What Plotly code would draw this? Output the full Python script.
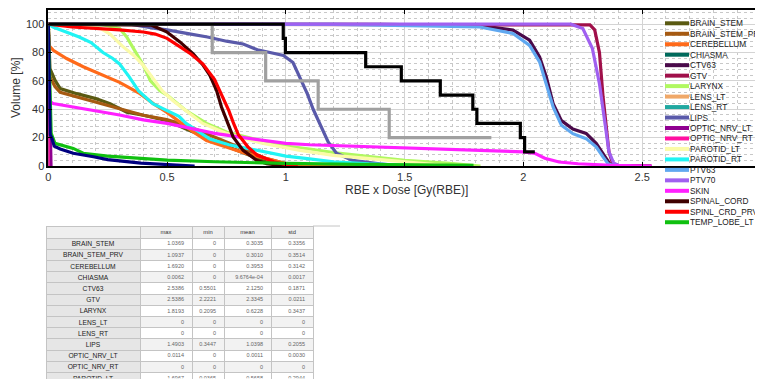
import plotly.graph_objects as go

# The page body has an 8px margin, so the figure is drawn 8px smaller and all
# reference pixel positions are shifted by that offset.
OFF = 8
FW, FH = 763 - OFF, 379 - OFF

# ---------------- DVH data (dose [Gy(RBE)], volume [%]) ----------------
names = ["BRAIN_STEM", "BRAIN_STEM_PRV", "CEREBELLUM", "CHIASMA", "CTV63", "GTV",
         "LARYNX", "LENS_LT", "LENS_RT", "LIPS", "OPTIC_NRV_LT", "OPTIC_NRV_RT",
         "PAROTID_LT", "PAROTID_RT", "PTV63", "PTV70", "SKIN", "SPINAL_CORD",
         "SPINL_CRD_PRV", "TEMP_LOBE_LT"]

colors = ["#5a5a12", "#a65a12", "#ff6a1a", "#006a5c", "#4a0a4a", "#a0104a",
          "#b0f860", "#f0a868", "#20a8a0", "#5a5aaa", "#900090", "#ff10a0",
          "#fbfba8", "#20f4f4", "#60a8f0", "#a060f0", "#ff20ff", "#400000",
          "#ff0000", "#10c010"]

brain_stem_dose = [0, 0.003, 0.007, 0.028, 0.05, 0.12, 0.2, 0.26, 0.33, 0.4, 0.5, 0.58, 0.64, 0.71, 0.78, 0.86, 0.92, 1.0, 1.0369]
brain_stem_vol = [100, 75, 68.7, 60.5, 54.6, 51, 47.5, 44, 38, 35.8, 32, 26, 21.6, 17, 12, 6.4, 2.8, 0.5, 0]

brain_stem_prv_dose = [0, 0.003, 0.007, 0.028, 0.05, 0.12, 0.2, 0.288, 0.4, 0.498, 0.58, 0.666, 0.75, 0.835, 0.919, 1.003, 1.0937]
brain_stem_prv_vol = [100, 68, 63, 56, 52, 48.7, 45, 40.5, 35.8, 32.7, 28.7, 22.8, 17, 11, 5.2, 1.6, 0]

cerebellum_dose = [0, 0.003, 0.021, 0.077, 0.147, 0.217, 0.30, 0.386, 0.442, 0.498, 0.554, 0.61, 0.666, 0.75, 0.835, 0.919, 1.003, 1.1, 1.3, 1.692]
cerebellum_vol = [100, 85, 81.6, 75.8, 70, 65, 59, 51, 44, 38, 31, 24, 18, 13.4, 8.7, 5.2, 1.6, 1, 0.4, 0]

chiasma_dose = [0, 0.002, 0.0062]
chiasma_vol = [100, 50, 0]

ctv63_dose = [0, 0.5501, 1.4, 1.816, 1.956, 2.026, 2.068, 2.096, 2.125, 2.16, 2.208, 2.264, 2.307, 2.335, 2.363, 2.4, 2.5386]
ctv63_vol = [100, 100, 99.9, 99, 95.8, 88.7, 77, 63, 44, 32, 26, 23, 15.8, 8.7, 1.6, 0.3, 0]

gtv_dose = [0, 2.2221, 2.28, 2.30, 2.32, 2.335, 2.35, 2.36, 2.375, 2.4, 2.5386]
gtv_vol = [100, 100, 99.5, 96, 80, 49, 25, 10, 2, 0.3, 0]

larynx_dose = [0, 0.2095, 0.25, 0.3, 0.33, 0.37, 0.4, 0.43, 0.47, 0.5, 0.58, 0.666, 0.75, 0.89, 1.0, 1.1, 1.2, 1.353, 1.5, 1.69, 1.8, 1.8193]
larynx_vol = [100, 100, 99, 97, 91, 80, 71, 60, 53, 50, 39, 30, 24, 18, 14, 12, 9.5, 6.6, 4, 1.9, 0.7, 0]

lens_lt_dose = [0, 0]
lens_lt_vol = [100, 0]

lens_rt_dose = [0, 0]
lens_rt_vol = [100, 0]

lips_dose = [0, 0.3447, 0.45, 0.5, 0.6, 0.67, 0.75, 0.82, 0.88, 0.94, 0.99, 1.03, 1.06, 1.09, 1.115, 1.143, 1.178, 1.213, 1.28, 1.395, 1.4903]
lips_vol = [100, 100, 97, 96, 93, 91, 88, 86, 82, 80, 78, 73, 62, 51, 40, 30, 17, 9, 4, 1.5, 0]

optic_nrv_lt_dose = [0, 0.005, 0.0114]
optic_nrv_lt_vol = [100, 46, 0]

optic_nrv_rt_dose = [0, 0]
optic_nrv_rt_vol = [100, 0]

parotid_lt_dose = [0, 0.0365, 0.2, 0.26, 0.315, 0.36, 0.4, 0.44, 0.48, 0.525, 0.58, 0.65, 0.75, 0.9, 1.06, 1.2, 1.4, 1.55, 1.6967]
parotid_lt_vol = [100, 100, 99, 93, 84, 78, 71, 62, 53, 46, 39, 30, 23, 16, 11, 7.5, 4.5, 2, 0]

parotid_rt_dose = [0, 0.02, 0.13, 0.18, 0.23, 0.27, 0.3, 0.34, 0.38, 0.44, 0.5, 0.55, 0.58, 0.68, 0.76, 0.9, 1.0, 1.1, 1.2, 1.35, 1.5, 1.6]
parotid_rt_vol = [100, 98, 91, 87, 80, 76, 72, 63, 53, 44, 39, 35, 30, 19, 15, 10, 7, 5, 3, 1.5, 0.5, 0]

ptv63_dose = [0, 0.5, 1.2, 1.395, 1.816, 1.956, 2.026, 2.068, 2.096, 2.125, 2.16, 2.208, 2.264, 2.307, 2.335, 2.356, 2.377, 2.45]
ptv63_vol = [100, 100, 99.8, 99.3, 98, 93.4, 85, 73.4, 58, 41.6, 28.7, 22.8, 19.3, 13.4, 6.4, 1.6, 0.3, 0]

ptv70_dose = [0, 1.0, 2.2, 2.25, 2.29, 2.32, 2.335, 2.345, 2.36, 2.38, 2.4, 2.45]
ptv70_vol = [100, 100, 100, 97, 83, 58, 39, 25, 10, 2, 0.5, 0]

skin_dose = [0, 0.003, 0.02, 0.15, 0.3, 0.4, 0.5, 0.6, 0.7, 0.8, 0.9, 1.0, 1.1, 1.3, 1.42, 1.7, 2.0, 2.05, 2.09, 2.15, 2.23, 2.37, 2.52, 2.54]
skin_vol = [100, 46, 44, 40.5, 36, 32.5, 30, 26.5, 23, 20.5, 18, 16, 15, 13.8, 13.5, 11.8, 10, 8.8, 5.5, 2.8, 1.6, 0.5, 0.2, 0]

spinal_cord_dose = [0, 0.435, 0.498, 0.554, 0.61, 0.652, 0.68, 0.708, 0.729, 0.75, 0.778, 0.82, 0.877, 0.919, 0.97, 1.0]
spinal_cord_vol = [100, 99.3, 94.6, 87.5, 79, 71, 64, 53.4, 41.6, 32, 20.5, 11, 4, 1.6, 0.3, 0]

spinl_crd_prv_dose = [0, 0.1, 0.3, 0.4, 0.45, 0.5, 0.55, 0.6, 0.65, 0.7, 0.73, 0.76, 0.78, 0.8, 0.84, 0.88, 0.95, 1.0, 1.05]
spinl_crd_prv_vol = [100, 98, 96, 94.5, 93, 90, 84.5, 79, 72, 61, 50, 39, 30, 22, 13.5, 7.5, 3, 1, 0]

temp_lobe_lt_dose = [0, 0.008, 0.012, 0.028, 0.105, 0.147, 0.25, 0.39, 0.5, 0.7, 1.0, 1.3, 1.6, 1.79]
temp_lobe_lt_vol = [100, 32, 23, 16, 12.4, 9, 7, 5.4, 4.2, 3, 1.8, 1.2, 0.8, 0.5]

# structures whose legend entries fall below the visible legend area
extra_names = ["unlisted_1", "unlisted_2", "unlisted_3"]
extra_colors = ["#000080", "#a0a0a0", "#000000"]
extra_shapes = ["linear", "hv", "hv"]
unlisted_1_dose = [0, 0.004, 0.008, 0.014, 0.025, 0.05, 0.105, 0.19, 0.25, 0.39, 0.5, 0.616]
unlisted_1_vol = [100, 40, 22, 20, 14, 12, 9, 6.5, 4.5, 2, 1.3, 0]
unlisted_2_dose = [0, 0.69, 0.915, 1.136, 1.435, 1.865]
unlisted_2_vol = [100, 80, 60, 40, 20, 20]
unlisted_3_dose = [0, 0.989, 0.998, 1.336, 1.486, 1.65, 1.787, 1.804, 1.987, 2.005, 2.048]
unlisted_3_vol = [100, 90, 80, 70, 60, 50, 40, 30, 20, 10, 10]

doses = [brain_stem_dose, brain_stem_prv_dose, cerebellum_dose, chiasma_dose, ctv63_dose, gtv_dose,
         larynx_dose, lens_lt_dose, lens_rt_dose, lips_dose, optic_nrv_lt_dose, optic_nrv_rt_dose,
         parotid_lt_dose, parotid_rt_dose, ptv63_dose, ptv70_dose, skin_dose, spinal_cord_dose,
         spinl_crd_prv_dose, temp_lobe_lt_dose]
vols = [brain_stem_vol, brain_stem_prv_vol, cerebellum_vol, chiasma_vol, ctv63_vol, gtv_vol,
        larynx_vol, lens_lt_vol, lens_rt_vol, lips_vol, optic_nrv_lt_vol, optic_nrv_rt_vol,
        parotid_lt_vol, parotid_rt_vol, ptv63_vol, ptv70_vol, skin_vol, spinal_cord_vol,
        spinl_crd_prv_vol, temp_lobe_lt_vol]
extra_doses = [unlisted_1_dose, unlisted_2_dose, unlisted_3_dose]
extra_vols = [unlisted_1_vol, unlisted_2_vol, unlisted_3_vol]

# ---------------- statistics table ----------------
table_names = ["BRAIN_STEM", "BRAIN_STEM_PRV", "CEREBELLUM", "CHIASMA", "CTV63", "GTV", "LARYNX",
               "LENS_LT", "LENS_RT", "LIPS", "OPTIC_NRV_LT", "OPTIC_NRV_RT", "PAROTID_LT"]
stat_max = [1.0369, 1.0937, 1.6920, 0.0062, 2.5386, 2.5386, 1.8193, 0, 0, 1.4903, 0.0114, 0, 1.6967]
stat_min = [0, 0, 0, 0, 0.5501, 2.2221, 0.2095, 0, 0, 0.3447, 0, 0, 0.0365]
stat_mean = [0.3035, 0.3010, 0.3953, 9.6764e-04, 2.1250, 2.3345, 0.6228, 0, 0, 1.0398, 0.0011, 0, 0.5658]
stat_std = [0.3356, 0.3514, 0.3142, 0.0017, 0.1871, 0.0211, 0.3437, 0, 0, 0.2055, 0.0030, 0, 0.2944]
table_header = ["", "max", "min", "mean", "std"]


def fmt(v):
    if v == 0:
        return "0"
    if abs(v) < 0.001:
        return f"{v:.4e}"
    return f"{v:.4f}"


def pxx(x):
    return (x - OFF) / FW


def pyy(y):
    return 1 - (y - OFF) / FH


fig = go.Figure()

for n, c, d, v in zip(names, colors, doses, vols):
    fig.add_trace(go.Scatter(x=d, y=v, mode="lines", name=n, showlegend=False,
                             line=dict(color=c, width=3.2)))
for n, c, s, d, v in zip(extra_names, extra_colors, extra_shapes, extra_doses, extra_vols):
    fig.add_trace(go.Scatter(x=d, y=v, mode="lines", name=n, showlegend=False,
                             line=dict(color=c, width=3.2, shape=s)))

# table: one layer for cell backgrounds/lines, one text layer nudged up so the
# text sits centred in the short rows
nrows = len(table_names)
row_fill = ["#ffffff" if i % 2 == 0 else "#f2f2f2" for i in range(nrows)]
cell_text = [table_names, [fmt(v) for v in stat_max], [fmt(v) for v in stat_min],
             [fmt(v) for v in stat_mean], [fmt(v) for v in stat_std]]
colw = [94, 52, 32, 47, 42]
TABLE_TOP = 226
TEXT_SHIFT = 4.8
fig.add_trace(go.Table(
    domain=dict(x=[pxx(46), pxx(313)], y=[0, pyy(TABLE_TOP)]),
    columnwidth=colw,
    header=dict(values=[""] * 5, fill_color="#efefef",
                line=dict(color="#c4c4c4", width=1), height=12),
    cells=dict(values=[[""] * nrows for _ in range(5)],
               fill_color=[["#e6e6e6"] * nrows, row_fill, row_fill, row_fill, row_fill],
               line=dict(color="#c4c4c4", width=1), height=11.2),
))
clear = "rgba(0,0,0,0)"
fig.add_trace(go.Table(
    domain=dict(x=[pxx(46), pxx(313)], y=[0, pyy(TABLE_TOP - TEXT_SHIFT)]),
    columnwidth=colw,
    header=dict(values=table_header, fill_color=clear, line=dict(color=clear, width=0),
                height=12, align="center",
                font=dict(family="Liberation Sans, Arial", size=5.8, color="#333333")),
    cells=dict(values=cell_text, fill_color=clear, line=dict(color=clear, width=0), height=11.2,
               align=["center", "right", "right", "right", "right"],
               font=dict(family="Liberation Sans, Arial", size=[6.7, 5.5, 5.5, 5.5, 5.5],
                         color=["#222222", "#666666", "#666666", "#666666", "#666666"])),
))

# custom compact legend (entries 10.5px apart, as in the reference)
shapes = []
annotations = []
for i, (n, c) in enumerate(zip(names, colors)):
    yc = 23.3 + i * 10.47
    shapes.append(dict(type="line", xref="paper", yref="paper",
                       x0=pxx(665), x1=pxx(689), y0=pyy(yc), y1=pyy(yc),
                       line=dict(color=c, width=4)))
    annotations.append(dict(xref="paper", yref="paper", x=pxx(687.5), y=pyy(yc),
                            xanchor="left", yanchor="middle", text=n, showarrow=False,
                            font=dict(family="Liberation Sans, Arial", size=8.3, color="#222222")))

shapes.append(dict(type="line", xref="paper", yref="paper", x0=pxx(313), x1=pxx(340),
                   y0=pyy(TABLE_TOP), y1=pyy(TABLE_TOP), line=dict(color="#c4c4c4", width=1)))

annotations.append(dict(xref="paper", yref="paper", x=pxx(406), y=pyy(189.5),
                        xanchor="center", yanchor="middle", text="RBE x Dose [Gy(RBE)]",
                        showarrow=False,
                        font=dict(family="Liberation Sans, Arial", size=12, color="#333333")))
annotations.append(dict(xref="paper", yref="paper", x=pxx(16), y=pyy(88),
                        xanchor="center", yanchor="middle", text="Volume [%]", textangle=-90,
                        showarrow=False,
                        font=dict(family="Liberation Sans, Arial", size=12, color="#333333")))

axis_common = dict(showline=True, linecolor="#000000", linewidth=1.5, mirror="ticks",
                   ticks="inside", ticklen=4, tickcolor="#000000",
                   showgrid=True, gridcolor="#d4d4d4", gridwidth=1, zeroline=False,
                   tickfont=dict(family="Liberation Sans, Arial", size=11, color="#333333"),
                   automargin=False)

fig.update_layout(
    width=FW, height=FH,
    margin=dict(l=0, r=0, t=0, b=0),
    paper_bgcolor="white", plot_bgcolor="white",
    showlegend=False,
    xaxis=dict(domain=[pxx(48.3), pxx(761)], range=[0, 3], dtick=0.5,
               minor=dict(dtick=0.1, showgrid=True, gridcolor="#c8c8c8", griddash="dot", ticks=""),
               **axis_common),
    yaxis=dict(domain=[pyy(166), pyy(10)], range=[0, 110], tickvals=[0, 20, 40, 60, 80, 100],
               minor=dict(dtick=4, showgrid=True, gridcolor="#c8c8c8", griddash="dot", ticks=""),
               **axis_common),
    shapes=shapes,
    annotations=annotations,
)

fig.write_html("out.html")
